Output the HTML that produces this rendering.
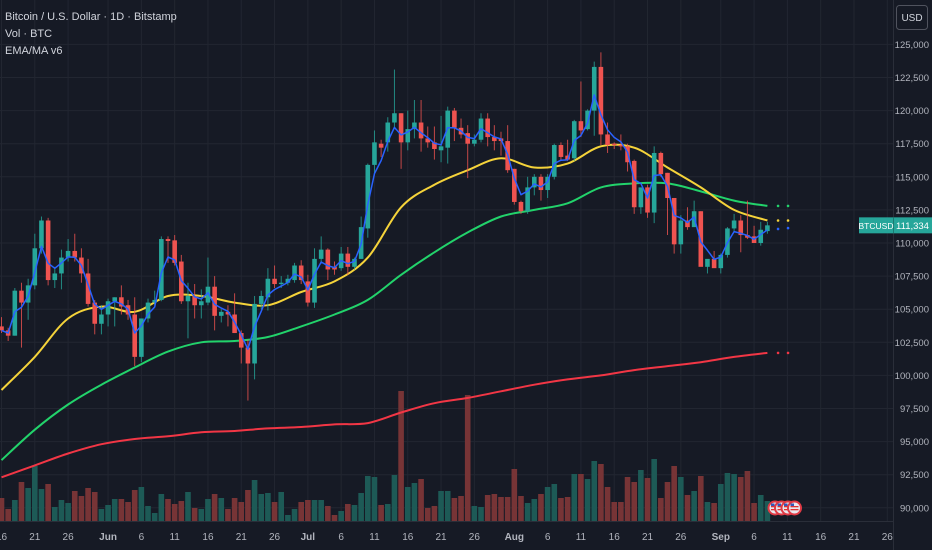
<!DOCTYPE html>
<html><head><meta charset="utf-8"><style>
html,body{margin:0;padding:0;background:#161a25;}
#wrap{position:relative;width:932px;height:550px;overflow:hidden;background:#161a25;font-family:"Liberation Sans",sans-serif;}
svg{position:absolute;left:0;top:0;}
.legend{position:absolute;left:5px;color:#d1d4dc;font-size:11px;line-height:13px;}
</style></head><body>
<div id="wrap">
<svg id="chart" width="932" height="550"></svg>
<div class="legend" style="top:11px">Bitcoin / U.S. Dollar · 1D · Bitstamp</div>
<div class="legend" style="top:28px">Vol · BTC</div>
<div class="legend" style="top:45px">EMA/MA v6</div>
</div>
<script>
// ---- data (prices in thousands USD), first candle = May 16 ----
const opens  = [103.7,103.4,103.0,106.4,105.5,106.8,109.6,111.7,107.2,107.7,108.9,109.4,108.9,107.7,105.5,103.9,104.6,105.6,105.9,105.3,104.6,101.4,104.3,105.5,105.7,110.3,110.2,108.6,105.6,106.0,105.3,105.5,106.7,104.5,104.8,104.6,103.2,102.1,100.9,105.4,105.9,107.3,106.9,107.0,107.2,108.3,107.1,105.5,108.8,109.5,108.2,108.1,109.2,108.2,108.8,111.1,115.9,117.5,117.6,119.1,119.8,117.6,118.6,119.1,117.9,117.6,117.0,117.2,120.0,118.7,118.3,117.5,117.8,119.4,118.0,117.9,117.7,115.6,113.1,112.4,114.2,115.0,114.0,115.0,117.4,116.6,116.4,119.2,118.6,120.0,123.3,118.2,117.5,117.4,117.3,116.2,112.7,114.2,112.3,116.8,115.3,113.4,109.9,111.7,111.2,112.4,108.2,108.8,108.1,109.1,111.1,111.7,110.6,110.5,110.0,110.9];
const highs  = [104.4,103.6,106.6,107.0,107.3,110.7,112.0,111.9,108.2,109.5,110.3,110.7,109.6,108.8,105.7,105.3,105.8,105.9,106.8,105.7,105.9,104.3,105.8,106.4,110.5,110.5,110.6,109.1,107.0,106.9,106.5,108.9,107.5,105.0,105.3,106.2,103.4,102.7,106.0,106.4,108.1,108.3,107.5,107.6,108.5,108.7,107.6,109.6,110.5,109.6,108.6,109.7,109.7,108.9,112.0,116.0,118.5,117.8,119.5,123.1,119.8,120.0,120.8,120.8,118.8,118.8,119.6,120.3,120.2,119.4,118.9,118.2,119.8,119.8,118.9,118.4,118.9,115.6,113.2,115.0,115.2,115.2,115.2,117.5,117.6,117.8,119.3,122.2,120.1,123.7,124.4,119.1,117.6,118.2,117.5,116.3,113.0,114.4,117.3,116.9,115.3,113.4,112.1,112.7,113.2,112.4,108.5,109.4,109.2,111.2,112.2,112.1,113.2,111.3,111.6,111.6];
const lows   = [103.2,102.6,103.0,102.1,104.2,106.5,109.2,106.8,106.6,106.5,108.6,108.6,107.0,105.2,103.1,103.1,103.7,103.7,104.6,104.2,100.7,101.0,104.0,105.3,105.6,108.5,108.3,105.4,102.8,104.3,104.3,105.3,103.4,104.0,103.7,103.2,100.9,98.1,99.7,105.0,104.9,106.6,106.6,106.8,107.0,106.9,105.2,105.1,108.6,107.2,107.6,107.9,107.6,108.0,108.8,110.4,115.1,116.5,116.9,118.6,115.6,117.0,117.9,116.9,117.2,116.3,116.1,116.0,117.7,117.9,114.9,117.3,117.6,117.3,117.0,116.6,115.3,112.9,112.2,112.2,113.6,113.2,113.4,114.8,116.2,116.2,116.2,118.0,118.5,118.1,117.4,116.8,117.1,117.0,115.4,112.2,112.2,111.9,111.5,115.0,110.6,109.2,109.2,111.0,111.3,108.4,107.7,108.4,107.7,108.9,110.9,109.3,110.3,110.1,109.8,110.7];
const closes = [103.4,103.0,106.4,105.5,106.8,109.6,111.7,107.2,107.7,108.9,109.4,108.9,107.7,105.4,103.9,104.6,105.6,105.9,105.2,104.6,101.4,104.3,105.5,105.7,110.3,110.15,108.5,105.6,106.0,105.3,105.6,106.7,104.5,104.8,104.6,103.2,102.1,100.9,105.4,106.0,107.3,106.9,107.0,107.3,108.3,107.2,105.5,108.8,109.5,108.0,108.0,109.2,108.2,108.8,111.2,115.9,117.6,117.2,119.1,119.8,117.6,118.6,119.1,117.9,117.6,117.1,117.3,120.0,118.7,118.2,117.5,117.8,119.4,118.0,117.7,117.7,115.5,113.1,112.4,114.2,115.0,114.0,115.0,117.4,116.5,116.3,119.2,118.5,120.0,123.3,118.2,117.4,117.4,117.3,116.1,112.7,114.2,112.3,116.8,115.2,113.4,109.9,111.7,111.2,112.4,108.2,108.8,108.1,109.1,111.1,111.7,110.6,110.4,110.0,111.0,111.334];
const volumes = [23,12,21,39,33,55,32,37,14,21,18,30,25,33,29,12,16,22,22,19,31,34,15,8,27,22,17,20,29,13,12,22,27,23,12,23,19,31,41,27,28,19,29,6,12,19,21,21,21,15,6,10,17,16,28,45,44,16,17,46,130,34,38,42,13,15,30,30,23,25,126,15,14,26,27,24,24,52,25,18,22,27,34,37,23,24,47,47,42,60,57,34,19,19,44,39,51,43,62,23,39,55,44,26,30,45,19,18,37,48,47,44,50,18,26,20];
// moving averages read every 5 candles (i = 0,5,10,...,115)
const maStep = 5;
const yellowMA = [98.9,101.4,104.3,105.2,104.8,106.0,106.0,105.5,105.3,106.3,107.1,108.9,112.7,114.4,115.5,116.4,115.7,116.0,117.3,117.2,115.7,114.2,112.5,111.7];
const greenMA  = [93.6,95.9,97.8,99.3,100.6,101.8,102.5,102.6,102.9,103.7,104.6,105.7,107.6,109.3,110.8,112.0,112.5,113.0,114.2,114.5,114.5,113.9,113.2,112.8];
const redMA    = [92.3,93.2,94.1,94.8,95.2,95.4,95.7,95.8,96.0,96.1,96.3,96.4,97.2,97.9,98.3,98.8,99.3,99.7,100.0,100.4,100.7,101.0,101.4,101.7];
const priceTicks = [125,122.5,120,117.5,115,112.5,110,107.5,105,102.5,100,97.5,95,92.5,90];
const dateTickIdx = [0,5,10,16,21,26,31,36,41,46,51,56,61,66,71,77,82,87,92,97,102,108,113,118,123,128,133];
const dateTickLbl = ["16","21","26","Jun","6","11","16","21","26","Jul","6","11","16","21","26","Aug","6","11","16","21","26","Sep","6","11","16","21","26"];
const lastPrice = 111.334;

// ---- axes ----
const PLOT_R = 893, VOL_BASE = 521;
function xs(i){ return 1.5 + i*6.66; }
function ys(p){ return 243 + (110 - p)/2.5*33.1; }
function vs(v){ return VOL_BASE - v*1.0; }
const GREEN='#26a69a', RED='#ef5350';
const NS='http://www.w3.org/2000/svg';
const svg=document.getElementById('chart');
function mk(tag, attrs, parent){ const e=document.createElementNS(NS,tag); for(const k in attrs) e.setAttribute(k,attrs[k]); (parent||svg).appendChild(e); return e; }
function fmt(p){ return Math.round(p*1000).toLocaleString('en-US'); }
function smoothPath(pts){
  let d='M'+pts[0][0].toFixed(1)+','+pts[0][1].toFixed(1);
  for(let k=0;k<pts.length-1;k++){
    const p0=pts[Math.max(0,k-1)],p1=pts[k],p2=pts[k+1],p3=pts[Math.min(pts.length-1,k+2)];
    const c1=[p1[0]+(p2[0]-p0[0])/6,p1[1]+(p2[1]-p0[1])/6], c2=[p2[0]-(p3[0]-p1[0])/6,p2[1]-(p3[1]-p1[1])/6];
    d+='C'+c1[0].toFixed(1)+','+c1[1].toFixed(1)+' '+c2[0].toFixed(1)+','+c2[1].toFixed(1)+' '+p2[0].toFixed(1)+','+p2[1].toFixed(1);
  }
  return d;
}

// grid
const grid = mk('g',{});


priceTicks.forEach(p=>{ mk('line',{x1:0,x2:PLOT_R,y1:ys(p),y2:ys(p),stroke:'#222631','stroke-width':1},grid); });
dateTickIdx.forEach(i=>{ const x=xs(i); if(x<PLOT_R) mk('line',{x1:x,x2:x,y1:0,y2:VOL_BASE,stroke:'#222631','stroke-width':1},grid); });

// volume
const volG = mk('g',{});


volumes.forEach((v,i)=>{
  const up = closes[i]>=opens[i];
  const r = mk('rect',{x:xs(i)-2.8,y:vs(v),width:5.6,height:VOL_BASE-vs(v),fill:up?'#1d5a56':'#773436'},volG);
  
  
});

// MA lines
function lineFromSamples(arr,color,w,name){
  const pts=arr.map((v,k)=>[xs(k*maStep),ys(v)]);
  const pth = mk('path',{d:smoothPath(pts),fill:'none',stroke:color,'stroke-width':w,'stroke-linejoin':'round'});
  
  
  const last=arr[arr.length-1];
  [1.6,3.1].forEach(o=>{ const c=mk('circle',{cx:xs(115+o),cy:ys(last),r:1.3,fill:color});   });
}
lineFromSamples(redMA,'#f23645',2,'ma-200-line');
lineFromSamples(greenMA,'#22d36b',2,'ma-50-line');
lineFromSamples(yellowMA,'#f5d33a',2,'ema-21-line');

// candles
const cG = mk('g',{});


closes.forEach((c,i)=>{
  const o=opens[i], up=c>=o, col=up?GREEN:RED, x=xs(i);
  const g=mk('g',{},cG);
  
  
  mk('line',{x1:x,x2:x,y1:ys(highs[i]),y2:ys(lows[i]),stroke:col,'stroke-width':1,opacity:0.8},g);
  const top=ys(Math.max(o,c)), bot=ys(Math.min(o,c));
  mk('rect',{x:x-2.3,y:top,width:4.6,height:Math.max(1,bot-top),fill:col},g);
});

// fast EMA (computed from closes)
let ema=closes[0], dB='';
closes.forEach((c,i)=>{ ema = i? ema+0.5*(c-ema) : c; dB+=(i?'L':'M')+xs(i).toFixed(1)+','+ys(ema).toFixed(1); });
const blue=mk('path',{d:dB,fill:'none',stroke:'#2962ff','stroke-width':1.5,'stroke-linejoin':'round'});


[1.6,3.1].forEach(o=>{ const c=mk('circle',{cx:xs(115+o),cy:ys(ema)-o*0.6,r:1.3,fill:'#2962ff'});   });

// event icons
const evG=mk('g',{});


[0,1,2,3].forEach(k=>{
  const cx=775+k*6.5, cy=508;
  mk('circle',{cx:cx,cy:cy,r:6.5,fill:'#e8e8ee',stroke:'#e03a45','stroke-width':2},evG);
  mk('rect',{x:cx-4,y:cy-2,width:8,height:1.3,fill:'#d33'},evG);
  mk('rect',{x:cx-4,y:cy+1,width:8,height:1.3,fill:'#d33'},evG);
  mk('rect',{x:cx-4,y:cy-4.5,width:3.5,height:2.5,fill:'#3457b8'},evG);
});

// price axis
mk('rect',{x:PLOT_R,y:0,width:932-PLOT_R,height:550,fill:'#161a25'});
mk('line',{x1:PLOT_R+0.5,x2:PLOT_R+0.5,y1:0,y2:550,stroke:'#2a2e39'});
priceTicks.forEach(p=>{
  const t=mk('text',{x:929,y:ys(p)+3.5,fill:'#b2b5be','font-size':9.5,'text-anchor':'end','font-family':'Liberation Sans, sans-serif'});
  t.textContent=fmt(p);
  
  
});
// USD box
const usd=mk('g',{});


mk('rect',{x:896.5,y:5.5,width:31,height:24,rx:3,fill:'#161a25',stroke:'#50535e'},usd);
const ut=mk('text',{x:912,y:21,fill:'#d1d4dc','font-size':10,'text-anchor':'middle','font-family':'Liberation Sans, sans-serif'},usd); ut.textContent='USD';
// last price label
const lp=mk('g',{});


const ly=ys(lastPrice);
mk('rect',{x:859,y:ly-8,width:34,height:16,fill:'#26a69a'},lp);
mk('rect',{x:893,y:ly-8,width:39,height:16,fill:'#26a69a'},lp);
mk('line',{x1:893.5,x2:893.5,y1:ly-8,y2:ly+8,stroke:'#1b7a71'},lp);
const l1=mk('text',{x:876,y:ly+3.5,fill:'#fff','font-size':8.5,'text-anchor':'middle','font-family':'Liberation Sans, sans-serif'},lp); l1.textContent='BTCUSD';
const l2=mk('text',{x:912.5,y:ly+3.5,fill:'#fff','font-size':9.5,'text-anchor':'middle','font-family':'Liberation Sans, sans-serif'},lp); l2.textContent=fmt(lastPrice);

// time axis
mk('line',{x1:0,x2:PLOT_R,y1:VOL_BASE+0.5,y2:VOL_BASE+0.5,stroke:'#2a2e39'});
dateTickIdx.forEach((i,k)=>{
  const lbl=dateTickLbl[k], month=isNaN(+lbl);
  const t=mk('text',{x:xs(i),y:540,fill:'#b2b5be','font-size':10,'text-anchor':'middle','font-weight':month?'bold':'normal','font-family':'Liberation Sans, sans-serif'});
  t.textContent=lbl;
  
  
});
</script>
</body></html>
